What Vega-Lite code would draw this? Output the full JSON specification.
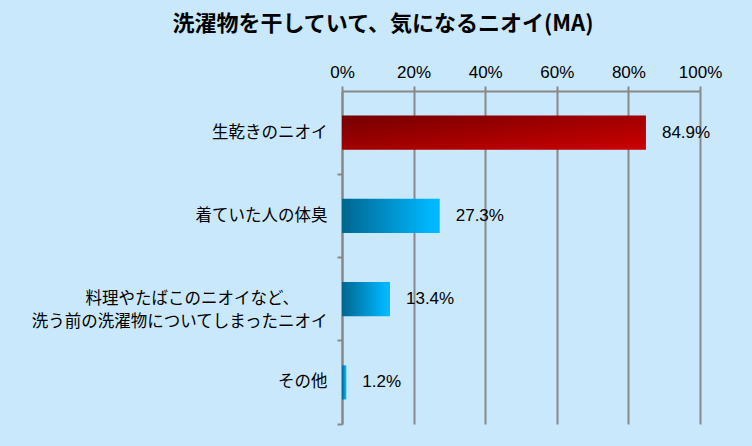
{
  "$schema": "https://vega.github.io/schema/vega-lite/v6.json",
  "width": 358,
  "height": 333,
  "autosize": "none",
  "padding": {"left": 342, "top": 91, "right": 52, "bottom": 22},
  "background": "#cae8fb",
  "title": {
    "text": "洗濯物を干していて、気になるニオイ(MA)",
    "font": "Noto Sans CJK JP",
    "fontSize": 22,
    "fontWeight": "bold",
    "color": "#000000",
    "anchor": "middle",
    "frame": "group",
    "dx": -138,
    "offset": 27
  },
  "data": {
    "values": [
      {"cat": "生乾きのニオイ", "v": 84.9, "g": "red", "lbl": "84.9%"},
      {"cat": "着ていた人の体臭", "v": 27.3, "g": "blue", "lbl": "27.3%"},
      {"cat": "料理やたばこのニオイなど、\u3000\u3000 \u200b|洗う前の洗濯物についてしまったニオイ", "v": 13.4, "g": "blue", "lbl": "13.4%"},
      {"cat": "その他", "v": 1.2, "g": "blue", "lbl": "1.2%"}
    ]
  },
  "encoding": {
    "y": {
      "field": "cat",
      "type": "nominal",
      "sort": null,
      "scale": {"paddingInner": 0, "paddingOuter": 0},
      "axis": {
        "title": null,
        "grid": false,
        "tickSize": 5,
        "bandPosition": 1,
        "labelPadding": 10,
        "labelFont": "Noto Sans CJK JP",
        "labelFontSize": 16.5,
        "labelExpr": "split(datum.label, '|')",
        "labelLineHeight": 23,
        "labelLimit": 0
      }
    },
    "x": {
      "field": "v",
      "type": "quantitative",
      "scale": {"domain": [0, 100], "nice": false},
      "axis": {
        "orient": "top",
        "title": null,
        "values": [0, 20, 40, 60, 80, 100],
        "labelExpr": "datum.value + '%'",
        "grid": true,
        "tickSize": 5,
        "labelPadding": 5,
        "labelFont": "Liberation Sans",
        "labelFontSize": 17,
        "labelFlush": false
      }
    }
  },
  "layer": [
    {
      "transform": [{"filter": "datum.g === 'red'"}],
      "mark": {
        "type": "bar",
        "height": {"band": 0.41},
        "fill": {
          "gradient": "linear",
          "x1": 0, "y1": 0, "x2": 1, "y2": 1,
          "stops": [
            {"offset": 0, "color": "#760000"},
            {"offset": 1, "color": "#cc0000"}
          ]
        }
      }
    },
    {
      "transform": [{"filter": "datum.g === 'blue'"}],
      "mark": {
        "type": "bar",
        "height": {"band": 0.41},
        "fill": {
          "gradient": "linear",
          "x1": 0, "y1": 0, "x2": 1, "y2": 0,
          "stops": [
            {"offset": 0, "color": "#006690"},
            {"offset": 0.9, "color": "#00b6fc"},
            {"offset": 1, "color": "#00b9ff"}
          ]
        }
      }
    },
    {
      "mark": {
        "type": "text",
        "align": "left",
        "baseline": "middle",
        "dx": 16,
        "font": "Liberation Sans",
        "fontSize": 17,
        "color": "#000000"
      },
      "encoding": {"text": {"field": "lbl"}}
    }
  ],
  "config": {
    "view": {"stroke": null},
    "axis": {
      "domainColor": "#888888",
      "domainWidth": 2,
      "tickColor": "#888888",
      "tickWidth": 2,
      "gridColor": "#888888",
      "gridWidth": 2,
      "gridOpacity": 1,
      "labelColor": "#000000"
    }
  }
}
